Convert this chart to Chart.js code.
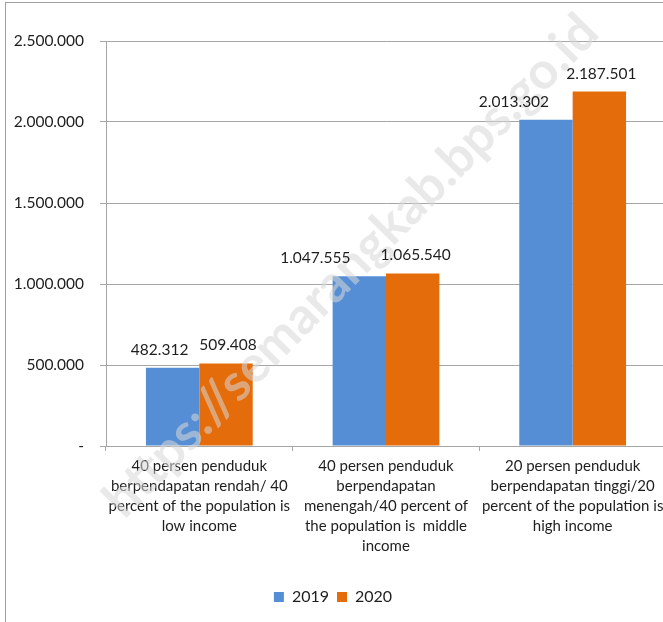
<!DOCTYPE html>
<html>
<head>
<meta charset="utf-8">
<script src="https://cdn.jsdelivr.net/npm/chart.js@4"></script>
<style>
  html, body { margin: 0; padding: 0; background: #fff; overflow: hidden; }
  .frame { position: absolute; left: 5px; top: 2px; width: 700px; height: 700px;
           border-left: 1px solid #a0a0a0; border-top: 1px solid #a0a0a0; }
  .wrap { position: absolute; left: 0; top: 0; width: 670px; height: 622px; }
</style>
</head>
<body>
<div class="frame"></div>
<div class="wrap"><canvas id="myChart1"></canvas></div>
<script>
const categories = [
    ['40 persen penduduk', 'berpendapatan rendah/ 40', 'percent of the population is', 'low income'],
    ['40 persen penduduk', 'berpendapatan', 'menengah/40 percent of', 'the population is  middle', 'income'],
    ['20 persen penduduk', 'berpendapatan tinggi/20', 'percent of the population is', 'high income']
];
const values2019 = [482312, 1047555, 2013302];
const values2020 = [509408, 1065540, 2187501];
const seriesNames = ['2019', '2020'];

const fontFamily = 'Lato, "Noto Sans", sans-serif';
const textColor = '#1e1e1e';
const gridColor = '#a6a6a6';
// the 2019 value labels sit to the left of their bars in the original
const labelShift = [[-13, -44, -32], [2, 3, 2]];

function formatNum(v) {
    if (v === 0) return '-';
    return String(Math.round(v)).replace(/\B(?=(\d{3})+(?!\d))/g, '.');
}

// watermark, drawn over the bars
const watermark = {
    id: 'watermark',
    afterDatasetsDraw(chart) {
        const c = chart.ctx;
        const txt = 'https://semarangkab.bps.go.id';
        c.save();
        c.font = 'bold 40px ' + fontFamily;
        const size = 40 * 680 / c.measureText(txt).width;
        c.font = 'bold ' + size + 'px ' + fontFamily;
        c.translate(351, 266);
        c.rotate(-45.5 * Math.PI / 180);
        c.fillStyle = 'rgba(215,215,215,0.55)';
        c.textAlign = 'center';
        c.textBaseline = 'middle';
        c.fillText(txt, 0, 0);
        c.restore();
    }
};

// labels above the bars
const barLabels = {
    id: 'barLabels',
    afterDatasetsDraw(chart) {
        const c = chart.ctx;
        c.save();
        c.font = '15.5px ' + fontFamily;
        c.fillStyle = textColor;
        c.textAlign = 'center';
        c.textBaseline = 'middle';
        chart.data.datasets.forEach((ds, i) => {
            chart.getDatasetMeta(i).data.forEach((bar, j) => {
                c.fillText(formatNum(ds.data[j]), bar.x + labelShift[i][j], bar.y - 18);
            });
        });
        c.restore();
    }
};

const ctx = document.getElementById('myChart1');
const myChart = new Chart(ctx, {
    type: 'bar',
    data: {
        labels: categories,
        datasets: [
            {
                label: seriesNames[0],
                data: values2019,
                backgroundColor: '#558ED5',
                borderWidth: 0
            },
            {
                label: seriesNames[1],
                data: values2020,
                backgroundColor: '#E46C0A',
                borderWidth: 0
            }
        ]
    },
    plugins: [watermark, barLabels],
    options: {
        maintainAspectRatio: false,
        responsive: true,
        animation: false,
        layout: {
            padding: { top: 41, right: 4, bottom: 7, left: 0 }
        },
        datasets: {
            bar: { categoryPercentage: 0.572, barPercentage: 1 }
        },
        plugins: {
            tooltip: { enabled: false },
            legend: {
                position: 'bottom',
                labels: {
                    boxWidth: 10,
                    boxHeight: 10,
                    padding: 8,
                    color: textColor,
                    font: { family: fontFamily, size: 16 }
                }
            }
        },
        scales: {
            x: {
                grid: {
                    offset: true,
                    drawOnChartArea: false,
                    drawTicks: true,
                    tickLength: 5,
                    color: gridColor
                },
                border: { display: true, color: gridColor },
                ticks: {
                    color: textColor,
                    padding: 5,
                    maxRotation: 0,
                    autoSkip: false,
                    font: { family: fontFamily, size: 15, lineHeight: 1.33 }
                },
                afterFit(scale) { scale.height = 135; }
            },
            y: {
                min: 0,
                max: 2500000,
                grid: {
                    color: gridColor,
                    tickLength: 6
                },
                border: { display: true, color: gridColor },
                ticks: {
                    stepSize: 500000,
                    color: textColor,
                    padding: 16,
                    font: { family: fontFamily, size: 15.5 },
                    callback: v => formatNum(v)
                },
                afterFit(scale) { scale.width = 106; }
            }
        }
    }
});
</script>
</body>
</html>
